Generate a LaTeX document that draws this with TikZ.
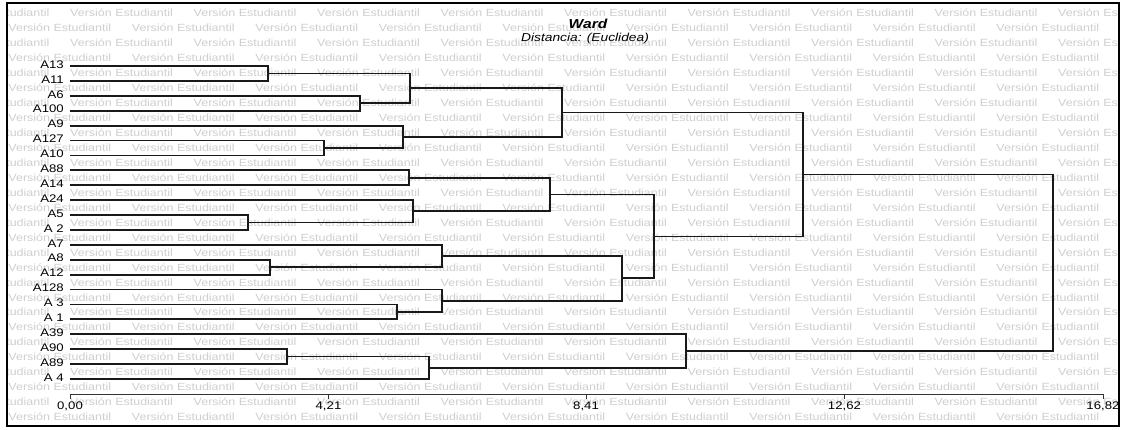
\documentclass[tikz,border=0pt]{standalone}
\usepackage{fontspec}
\setmainfont{Liberation Sans}
\newfontfamily\labfont[FakeStretch=1.2]{Liberation Sans}
\newfontfamily\wmfont[FakeStretch=1.2]{Liberation Sans}
\begin{document}
\begin{tikzpicture}[x=1pt,y=-1pt,
  dend/.style={line width=1.8pt, draw=black!90, line join=miter},
  axisline/.style={line width=1pt, draw=black!80},
  lab/.style={font=\labfont\fontsize{11}{13}\selectfont, anchor=east, inner sep=0pt},
  ticklab/.style={font=\labfont\fontsize{11}{13}\selectfont, inner sep=0pt},
  wm/.style={font=\wmfont\fontsize{10.4}{12}\selectfont, text=black!19, anchor=west, inner sep=0pt}]
\useasboundingbox (0,0) rectangle (1122,429);
\fill[white] (0,0) rectangle (1122,429);
% watermark
\begin{scope}
\clip (8,4) rectangle (1118,425);
\foreach \k in {0,...,27} {
  \pgfmathsetmacro\yy{13+14.96*\k}
  \pgfmathsetmacro\xo{ifthenelse(mod(\k,2)==0,70,8.25)}
  \foreach \n in {-1,...,9} {
    \node[wm] (wm-\k-\n) at ({\xo+123.5*\n},\yy) {Versión Estudiantil};
  }
}
\end{scope}
% frame
\draw[line width=2pt] (7,3) rectangle (1119,426);
% titles
\node[font=\labfont\bfseries\itshape\fontsize{13}{15}\selectfont, inner sep=0pt] (title) at (588,24) {Ward};
\node[font=\labfont\itshape\fontsize{11.5}{13}\selectfont, inner sep=0pt] (subtitle) at (585,39) {Distancia: (Euclidea)};
% leaves
\foreach \nm/\yy/\tx in {A13/66.0/A13, A11/80.9/A11, A6/95.8/A6, A100/110.7/A100,
  A9/125.6/A9, A127/140.5/A127, A10/155.4/A10, A88/170.3/A88, A14/185.2/A14,
  A24/200.1/A24, A5/215.0/A5, A2/229.9/{A 2}, A7/244.8/A7, A8/259.7/A8,
  A12/274.6/A12, A128/289.5/A128, A3/304.4/{A 3}, A1/319.3/{A 1}, A39/334.2/A39,
  A90/349.1/A90, A89/364.0/A89, A4/378.9/{A 4}} {
  \coordinate (\nm) at (70,\yy);
  \node[lab] (t\nm) at (64,{\yy-1.5}) {\tx};
}
% merge points
\coordinate (m1) at (268,73.45);
\coordinate (m2) at (360,103.25);
\coordinate (m3) at (410,88.35);
\coordinate (m4) at (324,147.95);
\coordinate (m5) at (403,136.78);
\coordinate (m6) at (562,112.56);
\coordinate (m7) at (409,177.75);
\coordinate (m8) at (248,222.45);
\coordinate (m9) at (413,211.28);
\coordinate (m10) at (550,194.51);
\coordinate (m11) at (270,267.15);
\coordinate (m12) at (442,255.98);
\coordinate (m13) at (397,311.85);
\coordinate (m14) at (442,300.68);
\coordinate (m15) at (622,278.33);
\coordinate (m16) at (654,236.42);
\coordinate (m17) at (803,174.49);
\coordinate (m18) at (287,356.55);
\coordinate (m19) at (429,367.73);
\coordinate (m20) at (686,350.96);
\coordinate (m21) at (1053,262.7);
% dendrogram
\draw[dend] (A13) -| (m1) |- (A11);
\draw[dend] (A6) -| (m2) |- (A100);
\draw[dend] (m1) -| (m3) |- (m2);
\draw[dend] (A127) -| (m4) |- (A10);
\draw[dend] (A9) -| (m5) |- (m4);
\draw[dend] (m3) -| (m6) |- (m5);
\draw[dend] (A88) -| (m7) |- (A14);
\draw[dend] (A5) -| (m8) |- (A2);
\draw[dend] (A24) -| (m9) |- (m8);
\draw[dend] (m7) -| (m10) |- (m9);
\draw[dend] (A8) -| (m11) |- (A12);
\draw[dend] (A7) -| (m12) |- (m11);
\draw[dend] (A3) -| (m13) |- (A1);
\draw[dend] (A128) -| (m14) |- (m13);
\draw[dend] (m12) -| (m15) |- (m14);
\draw[dend] (m10) -| (m16) |- (m15);
\draw[dend] (m6) -| (m17) |- (m16);
\draw[dend] (A90) -| (m18) |- (A89);
\draw[dend] (m18) -| (m19) |- (A4);
\draw[dend] (A39) -| (m20) |- (m19);
\draw[dend] (m17) -| (m21) |- (m20);
% axis
\coordinate (ax0) at (70,394);
\coordinate (ax4) at (1103,394);
\draw[axisline] (ax0) -- (ax4);
\foreach \i/\xx/\t in {0/70/{0,00}, 1/328.5/{4,21}, 2/586/{8,41}, 3/844.5/{12,62}, 4/1103/{16,82}} {
  \coordinate (tk\i) at (\xx,394);
  \draw[axisline] (tk\i) -- ++(0,5);
  \node[ticklab] (tl\i) at (\xx,406) {\t};
}
\end{tikzpicture}
\end{document}
